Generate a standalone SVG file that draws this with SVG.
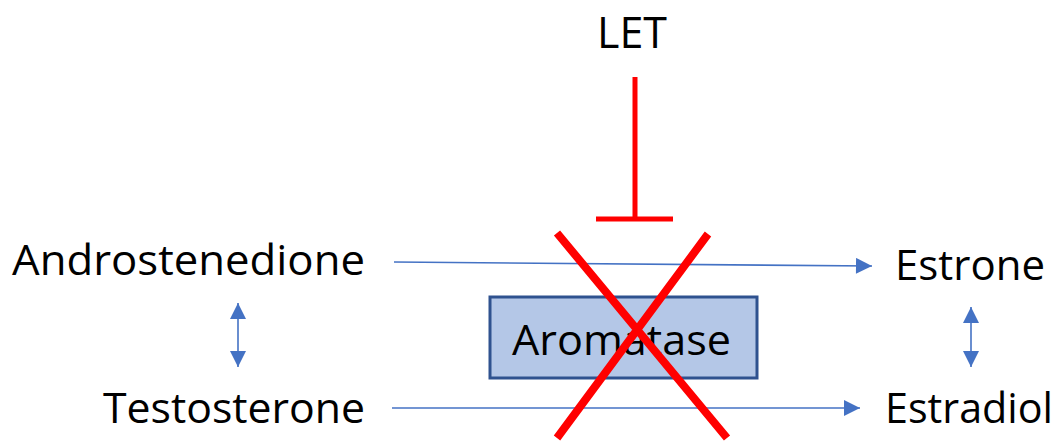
<svg xmlns="http://www.w3.org/2000/svg" width="1063" height="443" viewBox="0 0 1063 443">
<defs>
<marker id="ah2" viewBox="0 0 10 10" refX="10" refY="5" markerWidth="17" markerHeight="16" markerUnits="userSpaceOnUse" orient="auto-start-reverse">
<path d="M0,0 L10,5 L0,10 Z" fill="#4472c4"/>
</marker>
</defs>
<style>
text{font-family:"Open Sans","Noto Sans",sans-serif;fill:#000}
.lbl{font-size:42px}
.conn{stroke:#4472c4;stroke-width:1.6;fill:none}
.red{stroke:#ff0000;fill:none}
</style>
<rect width="1063" height="443" fill="#fff"/>
<g id="connectors">
<line class="conn" x1="394" y1="262" x2="872" y2="266" marker-end="url(#ah2)"/>
<line class="conn" x1="392" y1="408" x2="860" y2="408" marker-end="url(#ah2)"/>
<line class="conn" x1="238" y1="303" x2="238" y2="367" marker-start="url(#ah2)" marker-end="url(#ah2)"/>
<line class="conn" x1="971" y1="307" x2="971" y2="367" marker-start="url(#ah2)" marker-end="url(#ah2)"/>
<path class="red" stroke-width="5" d="M635,77 V219 M596,219 H673"/>
</g>
<g id="LET"><text x="632" y="48" font-size="44" text-anchor="middle" textLength="70" lengthAdjust="spacingAndGlyphs">LET</text></g>
<g id="Androstenedione"><text class="lbl" x="12" y="275" textLength="353" lengthAdjust="spacingAndGlyphs">Androstenedione</text></g>
<g id="Estrone"><text class="lbl" x="895" y="280" textLength="150" lengthAdjust="spacingAndGlyphs">Estrone</text></g>
<g id="Testosterone"><text class="lbl" x="103" y="423" textLength="262" lengthAdjust="spacingAndGlyphs">Testosterone</text></g>
<g id="Estradiol"><text class="lbl" x="885" y="423" textLength="168" lengthAdjust="spacingAndGlyphs">Estradiol</text></g>
<g id="Aromatase">
<rect x="490" y="297" width="267" height="81" fill="#b4c7e7" stroke="#2f528f" stroke-width="3"/>
<text class="lbl" x="512" y="355" textLength="219" lengthAdjust="spacingAndGlyphs">Aromatase</text>
</g>
<g id="cross">
<path class="red" stroke-width="8" d="M557,233 L727,438 M708,234 L557,438"/>
</g>
</svg>
